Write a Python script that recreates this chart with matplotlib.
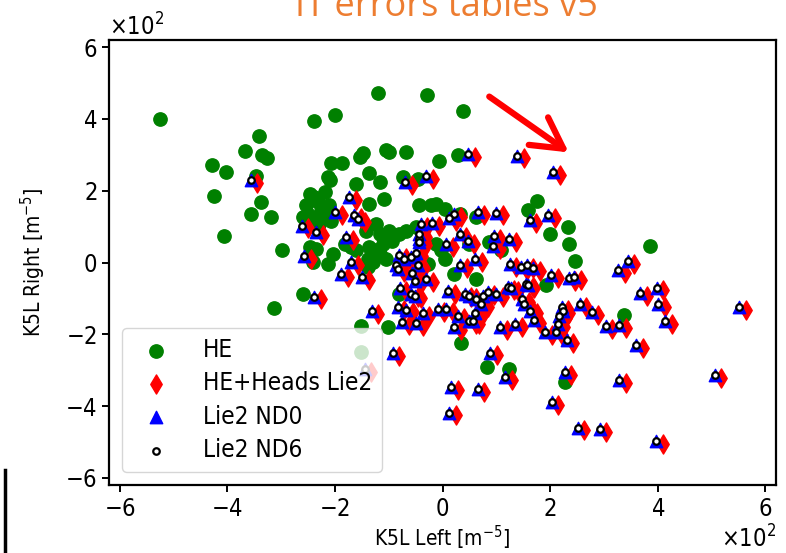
import matplotlib
matplotlib.use("Agg")
import matplotlib.pyplot as plt
from matplotlib.patches import FancyArrowPatch
from matplotlib.lines import Line2D

# ---------------- data (values in m^-5) ----------------
he_x = [-525, -239, -199, -341, -367, -336, -327, -429, -402, -346, -425, -338, -356, -318,
        -208, -187, -212, -210, -219, -247, -253, -225, -211, -238, -232, -216, -207, -260,
        -250, -241, -229, -247, -235, -213, -204, -182, -170, -160, -139, -130, -117, -123,
        -142, -136, -119, -29, 38, -105, -99, -67, -148, -154, -6, 28, -74, -46, -137, -117,
        -160, -108, -43, -21, -12, 4, 175, 159, -406, -299, -260, -314, -151, 32, 63, -99,
        -80, -93, -111, -117, -105, -136, -67, -49, -12, -2, 4, 50, 22, 63, 87, 109, -102,
        35, -27, -80, 199, 233, 235, 247, 385, 193, 338, 227, 83, 123, -151, -241, -123, -139]
he_y = [399, 393, 411, 353, 310, 299, 290, 272, 253, 240, 185, 168, 136, 128,
        276, 278, 238, 229, 196, 192, 159, 143, 161, 182, 168, 127, 117, 127,
        136, 117, 108, 43, 38, -4, 24, 52, 43, 34, 10, 1, 80, 108,
        89, 164, 471, 468, 422, 313, 308, 308, 304, 294, 282, 299, 238, 234, 249, 224,
        220, 178, 161, 159, 164, 150, 170, 145, 73, 34, -87, -128, -176, 136, 127, 89,
        80, 61, 52, 24, 10, 43, 89, 99, 52, 34, 10, 52, -32, -46, 57, 34, -181,
        -223, -4, -88, 80, 99, 52, 4, 45, -62, -145, -334, -292, -297, -248, 1, 34, -13]

nd0_x = [-356, -199, -173, 48, 139, 206, -30, -69, -164, 22, 66, 100, 162, 197, -157, -262,
         -235, -179, -257, -170, -188, -149, -238, -131, -40, -19, 13, -44, -43, 7, 32, 47,
         95, 94, 124, -80, -71, -58, -50, -87, -83, -46, -57, -52, -30, 33, 61, 125, -79,
         -58, -52, 11, 41, 50, 63, 72, 75, 84, 100, 121, -83, -67, -37, -9, 7, 28, -75, -49,
         22, 50, 56, 61, 107, 135, -92, 89, 146, 157, 169, 202, 235, 245, 327, 344, 128, 156,
         159, 368, 398, 148, 152, 163, 170, 222, 224, 255, 278, 214, 211, 191, 231, 304, 329,
         360, 401, 414, 552, 227, 329, 506, 203, 251, 292, 397, 16, 13, 66, 117, -145, 217, -43]
nd0_y = [229, 141, 182, 302, 298, 251, 241, 224, 131, 136, 141, 139, 118, 133, 120, 103,
         85, 71, 19, 1, -32, -41, -95, -136, 108, 110, 125, 66, 57, 52, 80, 59,
         73, 47, 66, 20, 10, 15, 27, -8, -18, -8, -30, -52, -46, -8, 10, -4, -71,
         -88, -92, -80, -88, -92, -101, -115, -92, -83, -88, -69, -125, -131, -142, -129, -129, -148, -167, -169,
         -179, -162, -162, -142, -181, -171, -253, -251, -13, -6, -15, -34, -44, -41, -22, 3, -71, -60,
         -64, -86, -70, -103, -115, -134, -160, -125, -134, -116, -137, -171, -195, -195, -216, -176, -174,
         -230, -115, -164, -123, -305, -327, -314, -390, -460, -465, -497, -346, -418, -353, -320, -297, -148, 80]

heads_x = [-344, -187, -161, 60, 151, 218, -18, -57, -152, 34, 78, 112, 174, 209, -145, -250,
           -223, -167, -245, -158, -176, -137, -226, -119, -28, -7, 25, -32, -31, 19, 44, 59,
           107, 106, 136, -68, -59, -46, -38, -75, -71, -34, -45, -40, -18, 45, 73, 137, -67,
           -46, -40, 23, 53, 62, 75, 84, 87, 96, 112, 133, -71, -55, -25, 3, 19, 40, -63, -37,
           34, 62, 68, 73, 119, 147, -80, 101, 158, 169, 181, 214, 247, 257, 339, 356, 140, 168,
           171, 380, 410, 160, 164, 175, 182, 234, 236, 267, 290, 226, 223, 203, 243, 316, 341,
           372, 413, 426, 564, 239, 341, 518, 215, 263, 304, 409, 28, 25, 78, 129, -133, 229, -31]
heads_y = [221, 133, 174, 294, 290, 243, 233, 216, 123, 128, 133, 131, 110, 125, 112, 95,
           77, 63, 11, -7, -40, -49, -103, -144, 100, 102, 117, 58, 49, 44, 72, 51,
           65, 39, 58, 12, 2, 7, 19, -16, -26, -16, -38, -60, -54, -16, 2, -12, -79,
           -96, -100, -88, -96, -100, -109, -123, -100, -91, -96, -77, -133, -139, -150, -137, -137, -156, -175, -177,
           -187, -170, -170, -150, -189, -179, -261, -259, -21, -14, -23, -42, -52, -49, -30, -5, -79, -68,
           -72, -94, -78, -111, -123, -142, -168, -133, -142, -124, -145, -179, -203, -203, -224, -184, -182,
           -238, -123, -172, -131, -313, -335, -322, -398, -468, -473, -505, -354, -426, -361, -328, -305, -156, 72]

# ND6 solutions coincide with ND0 on the picture
nd6_x = list(nd0_x)
nd6_y = list(nd0_y)

labels = ["HE", "HE+Heads Lie2", "Lie2 ND0", "Lie2 ND6"]
ticks = [-600, -400, -200, 0, 200, 400, 600]

# ---------------- figure ----------------
plt.rcParams['font.family'] = ['DejaVu Sans']
plt.rcParams['font.stretch'] = 'condensed'
plt.rcParams['mathtext.fontset'] = 'dejavusans'
fig = plt.figure(figsize=(7.86, 5.53), dpi=100)
ax = fig.add_axes([109/786, 1-485/553, 667/786, 445/553])

ax.scatter(he_x, he_y, s=92, marker='o', color='green', label=labels[0], zorder=2)
ax.scatter(heads_x, heads_y, s=95, marker='d', color='red', label=labels[1], zorder=3)
ax.scatter(nd0_x, nd0_y, s=80, marker='^', color='blue', label=labels[2], zorder=4)
ax.scatter(nd6_x, nd6_y, s=22, marker='o', facecolor='white', edgecolor='black',
           linewidths=1.6, label=labels[3], zorder=5)

ax.set_xlim(-620, 620)
ax.set_ylim(-620, 620)
ax.set_xticks(ticks)
ax.set_yticks(ticks)
ax.ticklabel_format(style='sci', axis='both', scilimits=(0, 0), useMathText=True)
ax.tick_params(labelsize=17, width=1.4, length=5)
ax.xaxis.get_offset_text().set_fontsize(17)
ax.yaxis.get_offset_text().set_fontsize(17)
for s in ax.spines.values():
    s.set_linewidth(1.6)

ax.set_xlabel("K5L Left [m$^{-5}$]", fontsize=15, labelpad=2)
ax.set_ylabel("K5L Right [m$^{-5}$]", fontsize=15, labelpad=12)

ax.legend(loc='lower left', fontsize=17.5, labelspacing=0.38, borderpad=0.4,
          handletextpad=0.9, borderaxespad=0.55)

# title (cropped at top in the reference)
fig.text(0.568, 1-16/553, "IT errors tables v5", ha='center', va='baseline',
         fontsize=26, color='#ED7D31', family=['Open Sans', 'DejaVu Sans'], stretch='normal')

# red arrow
arrow = FancyArrowPatch((487/786, 1-95/553), (571/786, 1-154/553),
                        transform=fig.transFigure, arrowstyle='->,head_length=1,head_width=0.55',
                        mutation_scale=22, color='red', lw=4.5)
fig.add_artist(arrow)

# black bar at bottom-left edge
fig.add_artist(Line2D([5/786, 5/786], [0, 1-470/553], transform=fig.transFigure,
                      color='black', lw=2.5))

fig.savefig("out.png", dpi=100)
